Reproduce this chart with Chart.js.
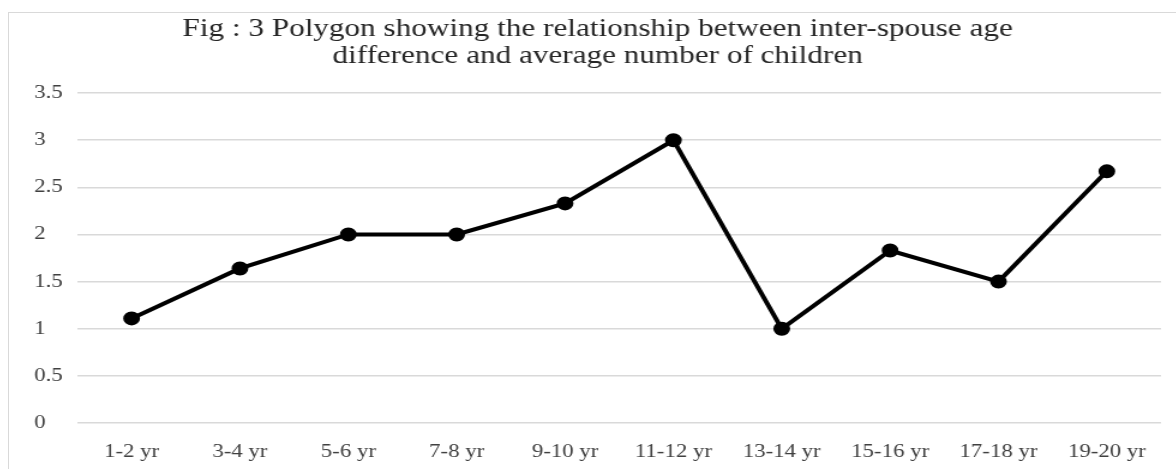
<!DOCTYPE html>
<html>
<head>
<meta charset="utf-8">
<script src="https://cdn.jsdelivr.net/npm/chart.js@4"></script>
<style>
  body { margin: 0; background: #fff; }
  #box {
    position: absolute; left: 8px; top: 12px;
    width: 1170px; height: 460px;
    border: 1px solid #d9d9d9; box-sizing: border-box;
  }
  /* a figura original está esticada na horizontal */
  #wrap {
    width: 973px; height: 458px;
    transform: scaleX(1.2); transform-origin: left top;
  }
</style>
</head>
<body>
<div id="box"><div id="wrap"><canvas id="chart"></canvas></div></div>
<script>
// categorias e valores
const faixas = ['1-2 yr', '3-4 yr', '5-6 yr', '7-8 yr', '9-10 yr', '11-12 yr', '13-14 yr', '15-16 yr', '17-18 yr', '19-20 yr'];
const mediaFilhos = [1.11, 1.64, 2, 2, 2.33, 3, 1, 1.83, 1.5, 2.67];
const titulo = ['Fig : 3 Polygon showing the relationship between inter-spouse age', 'difference and average number of children'];

const fonte = 'Liberation Serif';

const ctx = document.getElementById('chart').getContext('2d');
new Chart(ctx, {
    type: 'line',
    data: {
        labels: faixas,
        datasets: [{
            label: 'Average number of children',
            data: mediaFilhos,
            borderColor: '#000',
            backgroundColor: '#000',
            borderWidth: 4,
            pointRadius: 5,
            pointHoverRadius: 5,
            tension: 0
        }]
    },
    options: {
        responsive: true,
        maintainAspectRatio: false,
        animation: false,
        layout: { padding: { left: 21, right: 13, top: 0, bottom: 8 } },
        scales: {
            y: {
                min: 0,
                max: 3.5,
                ticks: {
                    stepSize: 0.5,
                    color: '#404040',
                    font: { family: fonte, size: 19 },
                    crossAlign: 'far',
                    padding: 8,
                    callback: v => String(v)
                },
                grid: { color: '#d9d9d9', lineWidth: 1.5, drawTicks: false },
                border: { display: false },
                afterFit: s => { s.width = 36; }
            },
            x: {
                offset: true,
                ticks: {
                    color: '#404040',
                    font: { family: fonte, size: 19 },
                    padding: 10,
                    maxRotation: 0
                },
                grid: { display: false },
                border: { display: false },
                afterFit: s => { s.height = 40; }
            }
        },
        plugins: {
            legend: { display: false },
            tooltip: { enabled: false },
            title: {
                display: true,
                text: titulo,
                color: '#262626',
                font: { family: fonte, size: 26, weight: 'normal', lineHeight: 1.06 },
                padding: { top: 2, bottom: 23 }
            }
        }
    }
});
</script>
</body>
</html>
